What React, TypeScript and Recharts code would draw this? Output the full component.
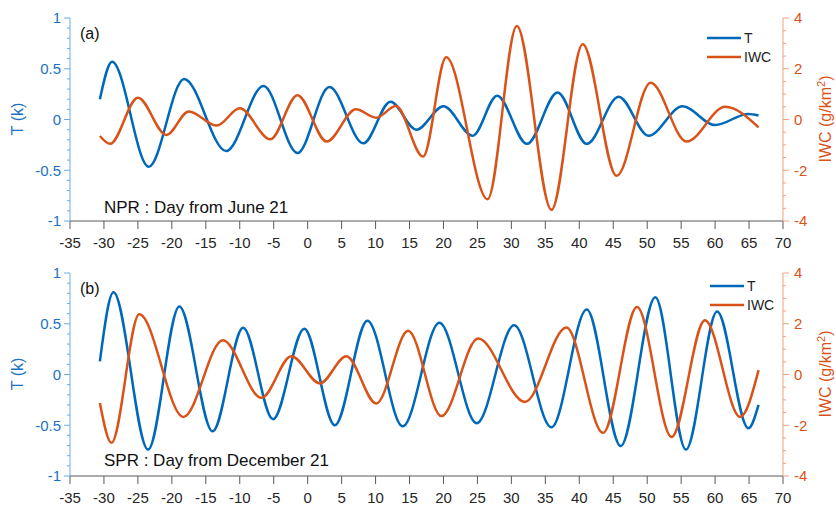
import React from 'react';
import { LineChart, Line, XAxis, YAxis, Legend } from 'recharts';

// axis ticks
const xTicks = [-35, -30, -25, -20, -15, -10, -5, 0, 5, 10, 15, 20, 25, 30, 35, 40, 45, 50, 55, 60, 65, 70];
const tMajor = [-1, -0.5, 0, 0.5, 1];
const tTicks = [-1, -0.9, -0.8, -0.7, -0.6, -0.5, -0.4, -0.3, -0.2, -0.1, 0, 0.1, 0.2, 0.3, 0.4, 0.5, 0.6, 0.7, 0.8, 0.9, 1];
const iwcMajor = [-4, -2, 0, 2, 4];
const iwcTicks = [-4, -3.5, -3, -2.5, -2, -1.5, -1, -0.5, 0, 0.5, 1, 1.5, 2, 2.5, 3, 3.5, 4];
const seriesNames = ['T', 'IWC'];

// (a) NPR : day from June 21
const nprTDay = [-30.6, -28.8, -23.4, -18.2, -12.0, -6.5, -1.5, 3.2, 8.2, 12.2, 16.0, 20.0, 24.3, 27.9, 32.3, 36.8, 41.1, 45.8, 50.2, 55.2, 60.0, 64.9, 66.4];
const nprT = [0.2, 0.57, -0.465, 0.4, -0.31, 0.33, -0.33, 0.32, -0.235, 0.175, -0.1, 0.13, -0.16, 0.235, -0.24, 0.265, -0.24, 0.225, -0.16, 0.13, -0.055, 0.055, 0.04];
const nprIwcDay = [-30.6, -29.1, -25.0, -20.8, -17.5, -13.4, -10.0, -5.5, -1.5, 2.8, 7.1, 10.1, 13.0, 17.0, 20.4, 26.5, 30.8, 35.9, 40.5, 45.5, 50.5, 55.8, 61.5, 66.4];
const nprIwc = [-0.65, -0.96, 0.86, -0.61, 0.32, -0.24, 0.44, -0.78, 0.96, -0.87, 0.4, 0.07, 0.53, -1.46, 2.45, -3.14, 3.68, -3.56, 2.97, -2.22, 1.45, -0.87, 0.5, -0.31];

// (b) SPR : day from December 21
const sprTDay = [-30.6, -28.6, -23.5, -18.9, -14.0, -9.5, -5.1, -0.5, 4.0, 8.8, 14.0, 19.4, 24.9, 30.4, 35.9, 41.1, 46.1, 51.2, 55.7, 60.3, 64.9, 66.4];
const sprT = [0.13, 0.81, -0.74, 0.67, -0.56, 0.46, -0.44, 0.45, -0.5, 0.53, -0.51, 0.51, -0.48, 0.485, -0.52, 0.64, -0.705, 0.76, -0.74, 0.62, -0.53, -0.3];
const sprIwcDay = [-30.6, -28.9, -24.8, -18.3, -12.5, -6.8, -2.4, 1.8, 5.7, 10.1, 14.8, 19.7, 25.1, 32.0, 38.1, 43.5, 48.5, 53.6, 58.5, 63.7, 66.4];
const sprIwc = [-1.12, -2.69, 2.37, -1.67, 1.35, -0.92, 0.72, -0.35, 0.72, -1.14, 1.72, -1.64, 1.42, -1.08, 1.85, -2.3, 2.66, -2.46, 2.14, -1.67, 0.17];

const BLUE = '#0068B8';
const BLUE_TXT = '#1a72c4';
const BLUE_AXIS = '#6aaee6';
const ORANGE = '#D95319';
const ORANGE_AXIS = '#f0a27c';
const GRAY = '#5a5a5a';
const FONT = '"Liberation Sans", Arial, sans-serif';

const pts = (days: number[], vals: number[]) => days.map((day, i) => ({ day, v: vals[i] }));

const LeftTick = (props: any) => {
  const { x, y, payload } = props;
  const major = tMajor.includes(payload.value);
  return (
    <g>
      <line x1={x} x2={x - (major ? 6 : 3)} y1={y} y2={y} stroke={BLUE_AXIS} />
      {major && (
        <text x={x - 9} y={y} dy="0.35em" textAnchor="end" fill={BLUE_TXT} fontSize={15} fontFamily={FONT}>
          {payload.value}
        </text>
      )}
    </g>
  );
};

const RightTick = (props: any) => {
  const { x, y, payload } = props;
  const major = iwcMajor.includes(payload.value);
  return (
    <g>
      <line x1={x} x2={x + (major ? 6 : 3)} y1={y} y2={y} stroke={ORANGE_AXIS} />
      {major && (
        <text x={x + 11} y={y} dy="0.35em" textAnchor="start" fill={ORANGE} fontSize={15} fontFamily={FONT}>
          {payload.value}
        </text>
      )}
    </g>
  );
};

const renderLegend = (props: any) => {
  const items = [...(props.payload || [])].sort(
    (a: any, b: any) => seriesNames.indexOf(a.value) - seriesNames.indexOf(b.value)
  );
  return (
    <svg width={90} height={44} style={{ display: 'block' }}>
      {items.map((e: any, i: number) => (
        <g key={e.value}>
          <line x1={2} x2={36} y1={10 + i * 19} y2={10 + i * 19} stroke={e.color} strokeWidth={2.4} />
          <text x={39} y={10 + i * 19} dy="0.36em" fontSize={14} fill="#222" fontFamily={FONT}>
            {e.value}
          </text>
        </g>
      ))}
    </svg>
  );
};

function Panel({ tData, iwcData, marginTop, xHeight, legendLeft, legendTop }: any) {
  return (
    <LineChart width={836} height={254} margin={{ top: marginTop, right: 0, bottom: 0, left: 0 }}>
      <XAxis
        xAxisId="b"
        type="number"
        dataKey="day"
        domain={[-35, 70]}
        ticks={xTicks}
        interval={0}
        allowDataOverflow
        height={xHeight}
        tickSize={8}
        tickMargin={8}
        stroke={GRAY}
        tick={{ fill: '#262626', fontSize: 15, fontFamily: FONT }}
      />
      <XAxis
        xAxisId="t"
        orientation="top"
        type="number"
        dataKey="day"
        domain={[-35, 70]}
        ticks={xTicks}
        interval={0}
        allowDataOverflow
        height={0}
        tickSize={8}
        stroke={GRAY}
        tickFormatter={() => ''}
      />
      <YAxis
        yAxisId="T"
        orientation="left"
        width={70}
        domain={[-1, 1]}
        ticks={tTicks}
        interval={0}
        allowDataOverflow
        tickSize={0}
        tickMargin={0}
        tickLine={false}
        stroke={BLUE_AXIS}
        tick={LeftTick}
      />
      <YAxis
        yAxisId="IWC"
        orientation="right"
        width={53}
        domain={[-4, 4]}
        ticks={iwcTicks}
        interval={0}
        allowDataOverflow
        tickSize={0}
        tickMargin={0}
        tickLine={false}
        stroke={ORANGE_AXIS}
        tick={RightTick}
      />
      <Legend
        layout="vertical"
        align="center"
        verticalAlign="middle"
        content={renderLegend}
        wrapperStyle={{ left: legendLeft, top: legendTop, width: 90, height: 44 }}
      />
      <Line xAxisId="b" yAxisId="T" data={tData} dataKey="v" name="T" type="monotone" stroke={BLUE} strokeWidth={2.5} dot={false} isAnimationActive={false} />
      <Line xAxisId="b" yAxisId="IWC" data={iwcData} dataKey="v" name="IWC" type="monotone" stroke={ORANGE} strokeWidth={2.5} dot={false} isAnimationActive={false} />
    </LineChart>
  );
}

function Titles({ cy, tag, note, tagY, noteY }: any) {
  return (
    <g fontFamily={FONT}>
      <text x={80} y={tagY} fontSize={16} fill="#111">{tag}</text>
      <text x={104} y={noteY} fontSize={17} fill="#111">{note}</text>
      <text transform={`translate(23 ${cy}) rotate(-90)`} textAnchor="middle" fontSize={16} fill={BLUE_TXT}>T (k)</text>
      <text transform={`translate(831 ${cy}) rotate(-90)`} textAnchor="middle" fontSize={16} fill={ORANGE}>
        IWC (g/km<tspan dy={-6} fontSize={11}>2</tspan><tspan dy={6}>)</tspan>
      </text>
    </g>
  );
}

export default function App() {
  return (
    <div style={{ position: 'absolute', left: 0, top: 0, width: 836, height: 508, background: '#fff', fontFamily: FONT }}>
      <div style={{ position: 'absolute', left: 0, top: 0 }}>
        <Panel tData={pts(nprTDay, nprT)} iwcData={pts(nprIwcDay, nprIwc)} marginTop={18} xHeight={33} legendLeft={705} legendTop={28} />
      </div>
      <div style={{ position: 'absolute', left: 0, top: 254 }}>
        <Panel tData={pts(sprTDay, sprT)} iwcData={pts(sprIwcDay, sprIwc)} marginTop={19} xHeight={32} legendLeft={708} legendTop={22} />
      </div>
      <svg width={836} height={508} style={{ position: 'absolute', left: 0, top: 0, pointerEvents: 'none' }}>
        <Titles cy={119} tag="(a)" note="NPR : Day from June 21" tagY={39} noteY={213} />
        <Titles cy={374} tag="(b)" note="SPR : Day from December 21" tagY={294} noteY={466} />
      </svg>
    </div>
  );
}
